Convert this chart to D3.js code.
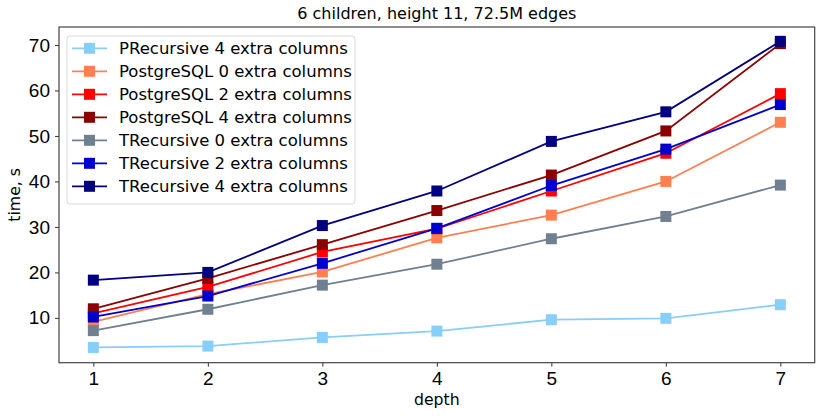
<!DOCTYPE html>
<html>
<head>
<meta charset="utf-8">
<script src="https://cdn.jsdelivr.net/npm/d3@7"></script>
<style>
  body { margin: 0; background: #fff; }
  svg { font-family: "DejaVu Sans", sans-serif; }
</style>
</head>
<body>
<svg id="my_svg"></svg>
<script>
const width = 823;
const height = 416;

const depths = [1, 2, 3, 4, 5, 6, 7];
const seriesNames = [
    'PRecursive 4 extra columns',
    'PostgreSQL 0 extra columns',
    'PostgreSQL 2 extra columns',
    'PostgreSQL 4 extra columns',
    'TRecursive 0 extra columns',
    'TRecursive 2 extra columns',
    'TRecursive 4 extra columns'
];
const pRec4 = [3.5, 3.8, 5.7, 7.1, 9.6, 9.9, 12.9];
const pg0 = [9.1, 15.2, 20.1, 27.6, 32.6, 40.0, 53.0];
const pg2 = [11.0, 16.8, 24.5, 29.6, 37.9, 46.2, 59.3];
const pg4 = [12.0, 18.7, 26.1, 33.6, 41.4, 51.1, 70.3];
const tRec0 = [7.2, 11.9, 17.2, 21.8, 27.4, 32.3, 39.2];
const tRec2 = [10.2, 14.8, 22.0, 29.7, 39.1, 47.1, 56.9];
const tRec4 = [18.3, 20.0, 30.3, 37.9, 48.8, 55.3, 70.8];
const yTicks = [10, 20, 30, 40, 50, 60, 70];
const colors = ['#87cefa', '#ff7f50', '#ff0000', '#8b0000', '#708090', '#0000cd', '#000080'];

const seriesValues = [pRec4, pg0, pg2, pg4, tRec0, tRec2, tRec4];
const series = seriesNames.map((name, i) => ({
    name: name,
    color: colors[i],
    points: depths.map((d, j) => ({x: d, y: seriesValues[i][j]}))
}));

const margin = {left: 59, right: 8.3, top: 27, bottom: 53.3};

const svg = d3.select('#my_svg')
    .attr('width', width)
    .attr('height', height);

const x = d3.scaleLinear()
    .domain([0.7, 7.3])
    .range([margin.left, width - margin.right]);

const y = d3.scaleLinear()
    .domain([0.15, 73.95])
    .range([height - margin.bottom, margin.top]);

// axes
svg.append('g')
    .attr('transform', `translate(0, ${height - margin.bottom})`)
    .call(d3.axisBottom(x).tickValues(depths).tickFormat(d3.format('d')).tickSize(4).tickPadding(5))
    .call(g => g.select('.domain').remove())
    .call(g => g.selectAll('text').attr('font-size', 19).attr('fill', '#000'))
    .call(g => g.selectAll('line').attr('stroke', '#333'));

svg.append('g')
    .attr('transform', `translate(${margin.left}, 0)`)
    .call(d3.axisLeft(y).tickValues(yTicks).tickSize(4).tickPadding(5))
    .call(g => g.select('.domain').remove())
    .call(g => g.selectAll('text').attr('font-size', 19).attr('fill', '#000'))
    .call(g => g.selectAll('line').attr('stroke', '#333'));

const line = d3.line()
    .x(d => x(d.x))
    .y(d => y(d.y));

const lines_g = svg.append('g').attr('id', 'lines_g');

series.forEach(s => {
    const g = lines_g.append('g');
    g.append('path')
        .datum(s.points)
        .attr('d', line)
        .attr('fill', 'none')
        .attr('stroke', s.color)
        .attr('stroke-width', 1.8);
    g.selectAll('rect')
        .data(s.points)
        .enter().append('rect')
        .attr('x', d => x(d.x) - 5.5)
        .attr('y', d => y(d.y) - 5.5)
        .attr('width', 11)
        .attr('height', 11)
        .attr('fill', s.color);
});

// frame
svg.append('rect')
    .attr('x', margin.left)
    .attr('y', margin.top)
    .attr('width', width - margin.left - margin.right)
    .attr('height', height - margin.top - margin.bottom)
    .attr('fill', 'none')
    .attr('stroke', '#444')
    .attr('stroke-width', 1.2);

// legend
const legend = svg.append('g').attr('transform', 'translate(67, 36)');
legend.append('rect')
    .attr('width', 288)
    .attr('height', 168)
    .attr('rx', 3)
    .attr('fill', '#fff')
    .attr('fill-opacity', 0.8)
    .attr('stroke', '#d9d9d9');

const item = legend.selectAll('.item')
    .data(series)
    .enter().append('g')
    .attr('class', 'item')
    .attr('transform', (d, i) => `translate(0, ${12.3 + 23 * i})`);

item.append('line')
    .attr('x1', 5).attr('x2', 40)
    .attr('stroke', d => d.color)
    .attr('stroke-width', 1.8);
item.append('rect')
    .attr('x', 22.5 - 5.5).attr('y', -5.5)
    .attr('width', 11).attr('height', 11)
    .attr('fill', d => d.color);
item.append('text')
    .attr('x', 52)
    .attr('y', 5.8)
    .attr('font-size', 16.5)
    .text(d => d.name);

// titles
svg.append('text')
    .attr('x', (margin.left + width - margin.right) / 2)
    .attr('y', 19)
    .attr('text-anchor', 'middle')
    .attr('font-size', 16)
    .text('6 children, height 11, 72.5M edges');

svg.append('text')
    .attr('x', (margin.left + width - margin.right) / 2)
    .attr('y', 405)
    .attr('text-anchor', 'middle')
    .attr('font-size', 15.7)
    .text('depth');

svg.append('text')
    .attr('transform', `translate(20, ${(margin.top + height - margin.bottom) / 2}) rotate(-90)`)
    .attr('text-anchor', 'middle')
    .attr('font-size', 15.7)
    .text('time, s');
</script>
</body>
</html>
